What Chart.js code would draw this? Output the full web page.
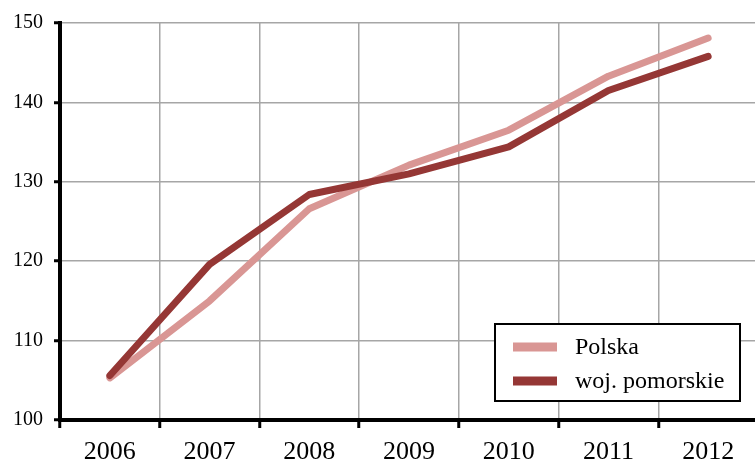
<!DOCTYPE html>
<html>
<head>
<meta charset="utf-8">
<script src="https://cdn.jsdelivr.net/npm/chart.js@4/dist/chart.umd.min.js"></script>
<style>
html,body{margin:0;padding:0;background:#fff;overflow:hidden;}
#wrap{width:758px;height:462px;}
</style>
</head>
<body>
<div id="wrap"><canvas id="c" width="758" height="462"></canvas></div>
<script>
const years = ['2006','2007','2008','2009','2010','2011','2012'];
const polska = [105.3, 115.0, 126.6, 132.1, 136.5, 143.3, 148.1];
const pomorskie = [105.6, 119.6, 128.4, 131.0, 134.4, 141.5, 145.8];
const seriesNames = ['Polska', 'woj. pomorskie'];
const yTicks = [100, 110, 120, 130, 140, 150];

const serif = "'Liberation Serif','Times New Roman',serif";

const legendPlugin = {
  id: 'boxLegend',
  afterDraw(chart) {
    const ctx = chart.ctx;
    const x0 = 495, y0 = 324, w = 245, h = 77;
    ctx.save();
    ctx.fillStyle = '#fff';
    ctx.fillRect(x0, y0, w, h);
    ctx.strokeStyle = '#000';
    ctx.lineWidth = 2;
    ctx.strokeRect(x0, y0, w, h);
    chart.data.datasets.forEach((ds, i) => {
      const cy = 347 + i * 34;
      ctx.fillStyle = ds.borderColor;
      ctx.fillRect(513, cy - 4.5, 44, 9);
      ctx.fillStyle = '#000';
      ctx.font = '24px ' + serif;
      ctx.textBaseline = 'middle';
      ctx.fillText(ds.label, 575, cy + 1);
    });
    ctx.restore();
  }
};

new Chart(document.getElementById('c'), {
  type: 'line',
  data: {
    labels: years,
    datasets: [
      { label: seriesNames[0], data: polska, borderColor: '#D99694', borderWidth: 7,
        borderCapStyle: 'round', borderJoinStyle: 'round', pointRadius: 0, tension: 0, order: 1 },
      { label: seriesNames[1], data: pomorskie, borderColor: '#953735', borderWidth: 7,
        borderCapStyle: 'round', borderJoinStyle: 'round', pointRadius: 0, tension: 0, order: 0 }
    ]
  },
  options: {
    responsive: false,
    animation: false,
    devicePixelRatio: 1,
    layout: { padding: { top: 20, right: 0, left: 0, bottom: 0 } },
    plugins: { legend: { display: false }, tooltip: { enabled: false } },
    scales: {
      x: {
        offset: true,
        grid: { offset: true, color: '#A6A6A6', lineWidth: 1.5, tickColor: '#000', tickWidth: 3, tickLength: 8, drawTicks: true },
        border: { color: '#000', width: 4 },
        ticks: { color: '#000', font: { family: serif, size: 26 }, padding: 9, maxRotation: 0, autoSkip: false },
        afterFit(s) { s.height = 42; }
      },
      y: {
        min: 100, max: 150,
        afterBuildTicks(s) { s.ticks = yTicks.map(v => ({ value: v })); },
        grid: { color: '#A6A6A6', lineWidth: 1.5, tickColor: '#000', tickWidth: 3, tickLength: 6 },
        border: { color: '#000', width: 4 },
        ticks: { color: '#000', font: { family: serif, size: 20 }, padding: 11 },
        afterFit(s) { s.width = 60; }
      }
    }
  },
  plugins: [legendPlugin]
});
</script>
</body>
</html>
